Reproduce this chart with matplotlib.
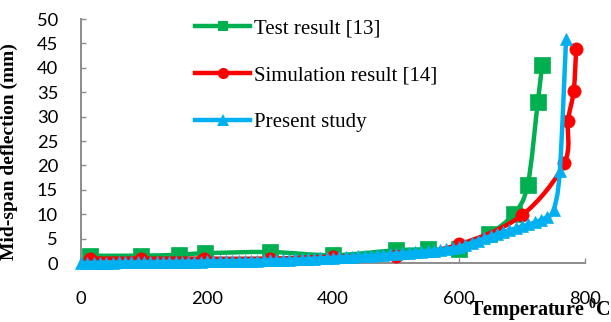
import matplotlib
matplotlib.use("Agg")
import matplotlib.pyplot as plt
from matplotlib.path import Path
from matplotlib.patches import PathPatch
from matplotlib.lines import Line2D
import numpy as np

# Mid-span deflection (mm) against temperature (deg C)
test_temp = [15, 95, 155, 197, 300, 400, 500, 550, 600, 648, 687, 709, 725, 732]
test_defl = [1.5, 1.5, 1.7, 2.0, 2.25, 1.6, 2.6, 2.8, 2.8, 5.9, 10.1, 16.0, 32.9, 40.6]

sim_temp = [15, 95, 195, 300, 400, 500, 600, 700, 767, 773, 782, 786]
sim_defl = [0.9, 0.9, 0.9, 0.9, 1.3, 1.5, 3.8, 9.8, 20.4, 29.2, 35.2, 43.8]

present_temp = list(range(0, 780, 10))
present_defl = [
    0.00, 0.03, 0.05, 0.07, 0.08, 0.10, 0.11, 0.12, 0.13, 0.14,
    0.15, 0.17, 0.18, 0.20, 0.21, 0.22, 0.24, 0.26, 0.28, 0.30,
    0.32, 0.34, 0.36, 0.38, 0.40, 0.42, 0.45, 0.48, 0.50, 0.53,
    0.56, 0.60, 0.64, 0.68, 0.72, 0.77, 0.82, 0.88, 0.94, 1.00,
    1.07, 1.14, 1.21, 1.28, 1.36, 1.44, 1.52, 1.60, 1.69, 1.78,
    1.88, 1.98, 2.08, 2.18, 2.30, 2.42, 2.55, 2.70, 2.87, 3.05,
    3.25, 3.70, 4.15, 4.60, 5.05, 5.50, 5.90, 6.30, 6.70, 7.10,
    7.50, 7.90, 8.30, 8.80, 9.50, 10.8, 18.8, 46.0,
]

series_labels = ["Test result [13]", "Simulation result [14]", "Present study"]
x_ticks = [0, 200, 400, 600, 800]
y_ticks = [0, 5, 10, 15, 20, 25, 30, 35, 40, 45, 50]

GREEN = "#00B050"
RED = "#FF0000"
BLUE = "#00B0F0"
AXIS_GREY = "#8C8C8C"


def smooth_path(x, y):
    """Catmull-Rom curve through the points, as cubic Bezier segments."""
    pts = np.column_stack([x, y]).astype(float)
    n = len(pts)
    verts = [pts[0]]
    codes = [Path.MOVETO]
    for i in range(n - 1):
        p0 = pts[max(i - 1, 0)]
        p1 = pts[i]
        p2 = pts[i + 1]
        p3 = pts[min(i + 2, n - 1)]
        verts += [p1 + (p2 - p0) / 6.0, p2 - (p3 - p1) / 6.0, p2]
        codes += [Path.CURVE4] * 3
    return Path(verts, codes)


fig = plt.figure(figsize=(6.11, 3.22), dpi=100)
ax = fig.add_axes([81 / 611, 1 - 263 / 322, 504 / 611, 244 / 322])

series = [
    (test_temp, test_defl, GREEN, "s", 11.5),
    (sim_temp, sim_defl, RED, "o", 9.5),
    (present_temp, present_defl, BLUE, "^", 9.0),
]
z = 3
for xs, ys, col, mk, ms in series:
    ax.add_patch(PathPatch(smooth_path(xs, ys), facecolor="none", edgecolor=col,
                           lw=3.2, capstyle="round", joinstyle="round",
                           zorder=z, clip_on=False))
    ax.plot(xs, ys, linestyle="none", marker=mk, ms=ms, color=col,
            markeredgecolor=col, markeredgewidth=0.5, zorder=z + 1, clip_on=False)
    z += 2

ax.set_xlim(0, 800)
ax.set_ylim(0, 50)
ax.set_xticks(x_ticks)
ax.set_yticks(y_ticks)

for side in ("top", "right"):
    ax.spines[side].set_visible(False)
for side in ("left", "bottom"):
    ax.spines[side].set_color(AXIS_GREY)
    ax.spines[side].set_linewidth(1.4)

ax.tick_params(axis="both", direction="in", length=3.8, width=1.0, color=AXIS_GREY,
               labelsize=13.2, labelcolor="black")
ax.tick_params(axis="y", pad=16.5)
ax.tick_params(axis="x", pad=20.5)
for lab in ax.get_xticklabels() + ax.get_yticklabels():
    lab.set_fontfamily("Lato")

ax.set_ylabel("Mid-span deflection (mm)", fontsize=14, fontweight="bold",
              family="Liberation Serif")
ax.yaxis.set_label_coords((18.5 - 81) / 504, (263 - 151.5) / 244)
ax.set_xlabel(r"Temperature $\mathregular{^{0}}$C", fontsize=14.5, fontweight="bold",
              family="Liberation Serif", ha="right", va="top")
ax.xaxis.set_label_coords((611 - 81) / 504, -(297 - 263) / 244)

handles = [
    Line2D([], [], color=GREEN, lw=3.2, marker="s", ms=7.5, markeredgewidth=0),
    Line2D([], [], color=RED, lw=3.2, marker="o", ms=8, markeredgewidth=0),
    Line2D([], [], color=BLUE, lw=3.2, marker="^", ms=8, markeredgewidth=0),
]
fig.legend(handles, series_labels, loc="upper left",
           bbox_to_anchor=(195 / 611, 1 - 19 / 322), bbox_transform=fig.transFigure,
           frameon=False, borderpad=0, borderaxespad=0, handlelength=2.64,
           handletextpad=0.2, labelspacing=1.3,
           prop={"family": "Liberation Serif", "size": 15})

fig.savefig("out.png", dpi=100)
